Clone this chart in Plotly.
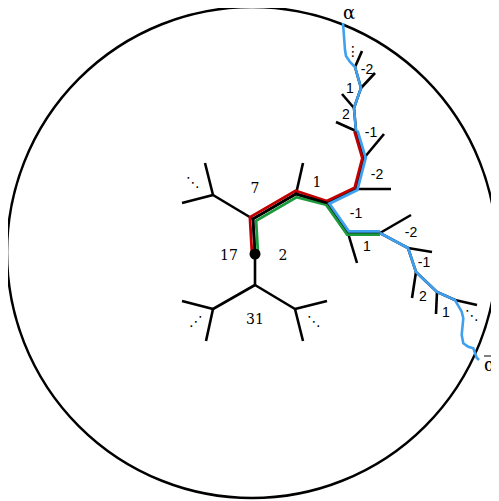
import numpy as np
import plotly.graph_objects as go

# ---- tree geometry (pixel-space node positions) ----
stem_x = [255, 253, 296, 327]
stem_y = [254, 219, 194, 203]

upper_x = [327, 356, 364, 356, 354, 361, 355]
upper_y = [203, 189, 158, 131, 108, 88, 67]

lower_x = [327, 348, 380, 408, 416, 437, 455]
lower_y = [203, 233, 233, 248, 272, 292, 300]

branch_x0 = [255, 255, 255, 213, 213, 295, 295, 253, 213, 213, 296,
             356, 364, 356, 354, 361, 355, 348, 380, 408, 416, 437, 455]
branch_y0 = [254, 285, 285, 309, 309, 309, 309, 219, 195, 195, 194,
             189, 158, 131, 108, 88, 67, 233, 233, 248, 272, 292, 300]
branch_x1 = [255, 213, 295, 182, 206, 327, 303, 213, 182, 205, 303,
             391, 384, 336, 342, 375, 362, 357, 411, 432, 412, 436, 477]
branch_y1 = [285, 309, 309, 301, 341, 301, 341, 195, 203, 163, 163,
             189, 134, 122, 94, 73, 51, 263, 215, 252, 298, 314, 305]

top_wiggle_x = [343, 343.3, 344, 344.3, 345, 346, 350, 355]
top_wiggle_y = [23, 28, 33, 40, 50, 56, 62, 67]
bottom_wiggle_x = [455, 458, 461.7, 463.3, 462.7, 461.7, 463.3, 468.3, 473.3, 475, 476.7, 479]
bottom_wiggle_y = [300, 305, 311.7, 318.3, 326.7, 335, 343.3, 346.7, 348.3, 353.3, 357.7, 360]

serif_labels = ["7", "1", "17", "2", "31"]
serif_x = [255, 317, 229, 283, 255]
serif_y = [189, 183, 256, 256, 320]

sans_labels = ["-2", "1", "2", "-1", "-2", "-1", "1", "-2", "-1", "2", "1"]
sans_x = [367, 350, 346, 371, 377, 356, 367, 411, 424, 423, 446]
sans_y = [70, 89, 115, 133, 175, 214, 247, 233, 263, 297, 313]

dot_labels = ["⋱", "⋰", "⋱", "⋮", "⋱"]
dot_x = [193, 196, 314, 353, 472]
dot_y = [183, 322, 322, 52, 316]

end_labels = ["α", "α"]
end_x = [349, 490]
end_y = [14, 366]

RED = "#c00000"
GREEN = "#1a9a3a"
BLUE = "#3fa0f0"

PAGE_MARGIN = 8  # default body margin of the html page


def offset(xs, ys, d):
    """Offset a polyline to its on-screen left (y axis points down)."""
    p = np.column_stack([xs, ys]).astype(float)
    n = len(p)
    d = np.broadcast_to(np.asarray(d, float), (n,))
    segs = p[1:] - p[:-1]
    segs = segs / np.linalg.norm(segs, axis=1)[:, None]
    normals = np.column_stack([segs[:, 1], -segs[:, 0]])
    out = []
    for i in range(n):
        if i == 0:
            m = normals[0]
            s = 1.0
        elif i == n - 1:
            m = normals[-1]
            s = 1.0
        else:
            m = normals[i - 1] + normals[i]
            m = m / np.linalg.norm(m)
            s = 1.0 / max(np.dot(m, normals[i]), 0.3)
        out.append(p[i] + m * d[i] * s)
    out = np.array(out)
    return out[:, 0], out[:, 1]


fig = go.Figure()

# black tree
bx, by = [], []
for a, b, c, e in zip(branch_x0, branch_y0, branch_x1, branch_y1):
    bx += [a, c, None]
    by += [b, e, None]
for xs, ys in [(stem_x, stem_y), (upper_x, upper_y), (lower_x, lower_y)]:
    bx += list(xs) + [None]
    by += list(ys) + [None]
fig.add_trace(go.Scatter(x=bx, y=by, mode="lines",
                         line=dict(color="black", width=2.6), hoverinfo="skip"))

# red path: stem + upper chain up to (356,131)
red_x = stem_x + upper_x[1:4]
red_y = stem_y + upper_y[1:4]
red_d = [3, 3, 3, 1.8, 1.6, 1.6, 1.6]
rx, ry = offset(red_x, red_y, red_d)
fig.add_trace(go.Scatter(x=rx, y=ry, mode="lines",
                         line=dict(color=RED, width=2.8), hoverinfo="skip"))

# green path: stem + first two lower chain edges
green_x = stem_x + lower_x[1:3]
green_y = stem_y + lower_y[1:3]
green_d = [-3, -3, -3, -1.8, -1.6, -1.6]
gx, gy = offset(green_x, green_y, green_d)
fig.add_trace(go.Scatter(x=gx, y=gy, mode="lines",
                         line=dict(color=GREEN, width=2.8), hoverinfo="skip"))

# redraw black stem on top, centred
fig.add_trace(go.Scatter(x=stem_x, y=stem_y, mode="lines",
                         line=dict(color="black", width=2.6), hoverinfo="skip"))

# blue path alpha -> alpha-bar
blue_top_x = top_wiggle_x + upper_x[::-1][1:4]
blue_top_y = top_wiggle_y + upper_y[::-1][1:4]
fig.add_trace(go.Scatter(x=blue_top_x, y=blue_top_y, mode="lines",
                         line=dict(color=BLUE, width=2.6), hoverinfo="skip"))
shared_x = upper_x[::-1][3:] + lower_x[1:3]
shared_y = upper_y[::-1][3:] + lower_y[1:3]
sx, sy = offset(shared_x, shared_y, 1.6)
fig.add_trace(go.Scatter(x=sx, y=sy, mode="lines",
                         line=dict(color=BLUE, width=2.8), hoverinfo="skip"))
blue_low_x = lower_x[2:] + bottom_wiggle_x[1:]
blue_low_y = lower_y[2:] + bottom_wiggle_y[1:]
fig.add_trace(go.Scatter(x=blue_low_x, y=blue_low_y, mode="lines",
                         line=dict(color=BLUE, width=2.6), hoverinfo="skip"))

# root dot
fig.add_trace(go.Scatter(x=[stem_x[0]], y=[stem_y[0]], mode="markers",
                         marker=dict(color="black", size=11), hoverinfo="skip"))

# labels
fig.add_trace(go.Scatter(x=serif_x, y=serif_y, mode="text", text=serif_labels,
                         textfont=dict(family="DejaVu Serif", size=14, color="black"),
                         hoverinfo="skip", cliponaxis=False))
fig.add_trace(go.Scatter(x=sans_x, y=sans_y, mode="text", text=sans_labels,
                         textfont=dict(family="Liberation Sans", size=14, color="black"),
                         hoverinfo="skip", cliponaxis=False))
fig.add_trace(go.Scatter(x=dot_x, y=dot_y, mode="text", text=dot_labels,
                         textfont=dict(family="DejaVu Sans", size=14, color="black"),
                         hoverinfo="skip", cliponaxis=False))
fig.add_trace(go.Scatter(x=end_x, y=end_y, mode="text", text=end_labels,
                         textfont=dict(family="DejaVu Serif", size=18, color="black"),
                         hoverinfo="skip", cliponaxis=False))

# overbar of the alpha-bar label
fig.add_shape(type="line", x0=end_x[1] - 6, x1=end_x[1] + 6,
              y0=end_y[1] - 10, y1=end_y[1] - 10,
              line=dict(color="black", width=1))

fig.add_shape(type="circle", x0=7, x1=497, y0=7, y1=498,
              line=dict(color="black", width=2.5), layer="below")

W, H = 499, 501
fig.update_layout(
    width=W - PAGE_MARGIN, height=H - PAGE_MARGIN,
    margin=dict(l=0, r=0, t=0, b=0),
    showlegend=False, plot_bgcolor="white", paper_bgcolor="white",
    xaxis=dict(range=[PAGE_MARGIN, W], visible=False, fixedrange=True),
    yaxis=dict(range=[H, PAGE_MARGIN], visible=False, fixedrange=True),
)
fig.write_html("out.html")
